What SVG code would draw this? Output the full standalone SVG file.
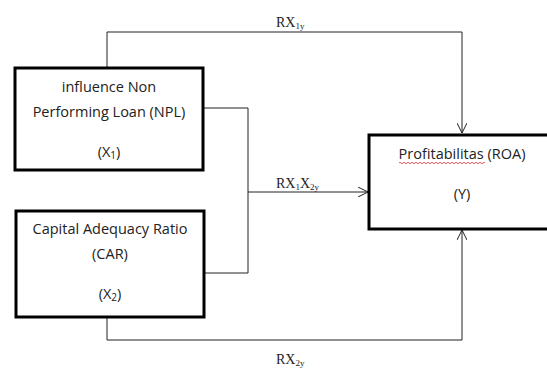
<svg xmlns="http://www.w3.org/2000/svg" width="547" height="368" viewBox="0 0 547 368">
<style>
.box{fill:#fff;stroke:#000;stroke-width:3}
.t{font-family:"Open Sans","Liberation Sans",sans-serif;font-size:14.5px;fill:#222;text-anchor:middle}
.lbl{font-family:"Liberation Serif",serif;font-size:14px;fill:#222}
.sub{font-size:9px}
.ts{font-size:10px}
.c{fill:none;stroke:#222;stroke-width:1}
</style>
<defs>
<marker id="arr" viewBox="0 0 10 10" refX="10" refY="5" markerWidth="10" markerHeight="10" markerUnits="userSpaceOnUse" orient="auto">
<polyline points="0,0 10,5 0,10" fill="none" stroke="#222" stroke-width="1"/>
</marker>
</defs>
<g id="connectors">
<polyline class="c" points="107,67 107,32 462,32 462,133" marker-end="url(#arr)"/>
<polyline class="c" points="203,108 248,108 248,273 204,273"/>
<line class="c" x1="248" y1="192" x2="368" y2="192" marker-end="url(#arr)"/>
<polyline class="c" points="107,317 107,340 462,340 462,230" marker-end="url(#arr)"/>
<text class="lbl" x="276" y="27">RX<tspan class="sub" dy="2">1y</tspan></text>
<text class="lbl" x="276" y="188">RX<tspan class="sub" dy="2">1</tspan><tspan dy="-2">X</tspan><tspan class="sub" dy="2">2y</tspan></text>
<text class="lbl" x="276" y="364">RX<tspan class="sub" dy="2">2y</tspan></text>
</g>
<g id="npl">
<rect class="box" x="15" y="68" width="188" height="102"/>
<text class="t" x="109" y="92">influence Non</text>
<text class="t" x="109" y="117">Performing Loan (NPL)</text>
<text class="t" x="109" y="157">(X<tspan class="ts" dy="2">1</tspan><tspan dy="-2">)</tspan></text>
</g>
<g id="car">
<rect class="box" x="16" y="211" width="188" height="106"/>
<text class="t" x="110" y="234">Capital Adequacy Ratio</text>
<text class="t" x="110" y="259">(CAR)</text>
<text class="t" x="110" y="299">(X<tspan class="ts" dy="2">2</tspan><tspan dy="-2">)</tspan></text>
</g>
<g id="roa">
<rect class="box" x="369" y="135" width="190" height="94"/>
<text class="t" x="462" y="159">Profitabilitas (ROA)</text>
<path d="M399,163 q1,-1.5 2,0 t2,0 t2,0 t2,0 t2,0 t2,0 t2,0 t2,0 t2,0 t2,0 t2,0 t2,0 t2,0 t2,0 t2,0 t2,0 t2,0 t2,0 t2,0 t2,0 t2,0 t2,0 t2,0 t2,0 t2,0 t2,0 t2,0 t2,0 t2,0 t2,0 t2,0 t2,0 t2,0 t2,0 t2,0 t2,0 t2,0 t2,0 t2,0 t2,0 t2,0 t2,0 t2,0" fill="none" stroke="#e03030" stroke-width="0.8"/>
<text class="t" x="462" y="199">(Y)</text>
</g>
</svg>
